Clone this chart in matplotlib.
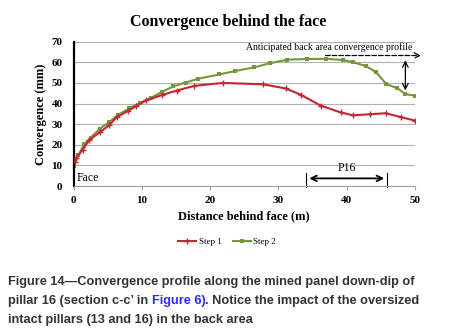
import matplotlib
matplotlib.use("Agg")
import matplotlib.pyplot as plt

# data
step1_x = [0.2, 0.3, 1.3, 2.3, 3.85, 5.2, 6.3, 8.0, 9.2, 10.6, 13.0, 15.1, 17.7, 21.9,
           27.8, 31.1, 33.3, 36.2, 39.1, 40.9, 43.4, 45.7, 48.0, 50.0]
step1_y = [11.5, 13.4, 17.5, 22.4, 26.1, 29.5, 33.4, 36.5, 38.9, 41.5, 44.2, 46.3, 48.6, 50.0,
           49.3, 47.3, 44.2, 39.0, 35.7, 34.3, 34.8, 35.3, 33.4, 31.7]

step2_x = [0.0, 0.7, 1.55, 2.5, 3.85, 5.2, 6.5, 8.1, 9.7, 11.4, 13.0, 14.6, 16.4, 18.2,
           21.3, 23.7, 26.4, 28.7, 31.3, 34.2, 37.0, 39.5, 40.9, 42.8, 44.3, 45.8, 47.4, 48.6, 50.0]
step2_y = [9.7, 15.0, 20.3, 23.5, 27.8, 31.0, 34.5, 37.6, 40.3, 42.9, 45.8, 48.3, 50.2, 52.0,
           54.1, 55.8, 57.5, 59.5, 61.3, 61.6, 61.7, 61.1, 60.1, 58.2, 55.3, 49.4, 47.5, 44.6, 43.8]

xticks = [0, 10, 20, 30, 40, 50]
yticks = [0, 10, 20, 30, 40, 50, 60, 70]

red = '#c4272f'
green = '#76963a'
serif = 'Liberation Serif'

fig = plt.figure(figsize=(4.51, 3.33), dpi=100)
ax = fig.add_axes([0.1634, 0.4414, 0.7566, 0.4334])

ax.plot(step1_x, step1_y, color=red, lw=1.5, marker='+', ms=4, mew=1.0, label='Step 1', zorder=3)
ax.plot(step2_x, step2_y, color=green, lw=1.5, marker='s', ms=3.5, mew=0, label='Step 2', zorder=2)

ax.set_xlim(0, 50)
ax.set_ylim(0, 70)
ax.set_xticks(xticks)
ax.set_yticks(yticks)
ax.yaxis.grid(True, color='#b0b0b0', lw=0.8)
ax.set_axisbelow(True)
for s in ['top', 'right']:
    ax.spines[s].set_visible(False)
ax.spines['left'].set_linewidth(1.6)
ax.spines['left'].set_color('black')
ax.spines['bottom'].set_color('#a0a0a0')
ax.spines['bottom'].set_linewidth(0.8)
ax.tick_params(axis='y', length=0, pad=8)
ax.tick_params(axis='x', length=3, color='#a0a0a0', pad=4)
for lab in ax.get_xticklabels() + ax.get_yticklabels():
    lab.set_family(serif)
    lab.set_fontsize(8)
    lab.set_fontweight('bold')

fig.text(228 / 451, 1 - 22 / 333, 'Convergence behind the face', family=serif, fontsize=11.5,
         fontweight='bold', ha='center', va='center')
ax.set_xlabel('Distance behind face (m)', family=serif, fontsize=9, fontweight='bold', labelpad=4)
ax.set_ylabel('Convergence (mm)', family=serif, fontsize=9, fontweight='bold', labelpad=3)

# annotations
ax.text(0.5, 4, 'Face', family=serif, fontsize=8.5, va='center', ha='left')
ax.annotate('', xy=(51.3, 63.3), xytext=(36.5, 63.3), annotation_clip=False,
            arrowprops=dict(arrowstyle='->', ls='--', lw=0.9, color='black'))
ax.text(37.4, 67.3, 'Anticipated back area convergence profile', family=serif, fontsize=7,
        ha='center', va='center')
ax.annotate('', xy=(48.6, 45.0), xytext=(48.6, 62.3),
            arrowprops=dict(arrowstyle='<->', lw=0.9, color='black'))
ax.annotate('', xy=(45.9, 3.7), xytext=(34.1, 3.7),
            arrowprops=dict(arrowstyle='<->', lw=1.3, color='black'))
ax.plot([34.1, 34.1], [-0.3, 6.3], color='black', lw=0.8, clip_on=False)
ax.plot([45.9, 45.9], [-0.3, 6.3], color='black', lw=0.8, clip_on=False)
ax.text(40.0, 8.6, 'P16', family=serif, fontsize=8.5, ha='center', va='center')

leg = ax.legend(loc='center', bbox_to_anchor=(0.45, -0.39), ncol=2, frameon=False,
                prop={'family': serif, 'size': 6.5}, handlelength=2.0, columnspacing=1.2,
                handletextpad=0.3)

# caption
cap_font = dict(family='Liberation Sans', fontsize=9.2, fontweight='bold', color='#333333')
fig.text(0.018, 1 - 282 / 333, 'Figure 14\u2014Convergence profile along the mined panel down-dip of',
         va='center', **cap_font)
y2 = 1 - 301 / 333
t1 = fig.text(0.018, y2, 'pillar 16 (section c-c\u2019 in ', va='center', **cap_font)
fig.canvas.draw()
r = fig.canvas.get_renderer()
x_next = (t1.get_window_extent(r).x1) / fig.bbox.width
t2 = fig.text(x_next, y2, 'Figure 6)', va='center', **{**cap_font, 'color': '#2b2bff'})
fig.canvas.draw()
x_next = (t2.get_window_extent(r).x1) / fig.bbox.width
fig.text(x_next, y2, '. Notice the impact of the oversized', va='center', **cap_font)
fig.text(0.018, 1 - 320 / 333, 'intact pillars (13 and 16) in the back area', va='center', **cap_font)

fig.savefig('out.png', dpi=100)
